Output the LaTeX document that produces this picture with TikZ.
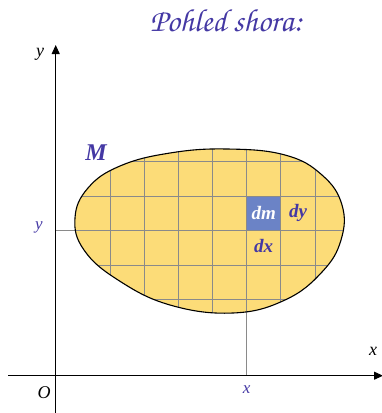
\documentclass[tikz,border=0pt]{standalone}
\usepackage{fontspec}
\setmainfont{Liberation Serif}
\usetikzlibrary{arrows.meta}
\definecolor{ink}{HTML}{4438A4}
\definecolor{blobfill}{HTML}{FCDC78}
\definecolor{cellblue}{HTML}{6B83C6}
\definecolor{gridgray}{HTML}{8A8A8A}
\tikzset{
  axis/.style={line width=1pt, -{Triangle[length=9pt,width=8pt]}},
  gridline/.style={gridgray, line width=0.9pt},
  axlabel/.style={font=\fontsize{18}{18}\selectfont\itshape},
  bluelabel/.style={ink, font=\fontsize{17}{17}\selectfont\itshape},
  mlabel/.style={ink, font=\fontsize{19}{19}\selectfont\bfseries\itshape},
  biglabel/.style={ink, font=\fontsize{24}{24}\selectfont\bfseries\itshape},
}
\def\blobpath{plot[smooth cycle, tension=0.7] coordinates {(75,218) (88,188) (120,166) (170,153) (227,149) (285,155) (322,175) (342,205) (341,240) (322,272) (285,300) (233,313) (170,305) (118,280) (84,250)}}
\begin{document}
\begin{tikzpicture}[x=1pt,y=-1pt]
\useasboundingbox (0,0) rectangle (382,413);
% extended lines
\coordinate (xfoot) at (246.7,375.7);
\coordinate (xtop) at (246.7,200);
\coordinate (yfoot) at (55.7,230);
\coordinate (yend) at (200,230);
\draw[gridline] (xfoot) -- (xtop);
\draw[gridline] (yfoot) -- (yend);
% blob
\fill[blobfill] \blobpath;
\begin{scope}
\clip \blobpath;
\fill[cellblue] (246.7,196) rectangle (280.7,230);
\foreach \gx in {110,144,178.3,212.7,246.7,280.7,315}
  \draw[gridline] (\gx,140) -- (\gx,320);
\foreach \gy in {161.7,196,230,265,299.3}
  \draw[gridline] (70,\gy) -- (350,\gy);
\end{scope}
\draw[line width=1.1pt] \blobpath;
% axes
\coordinate (xs) at (8,375.7);
\coordinate (xe) at (383,375.7);
\coordinate (ys) at (55.7,413);
\coordinate (ye) at (55.7,45);
\draw[axis] (xs) -- (xe);
\draw[axis] (ys) -- (ye);
% labels
\node[axlabel] (ly) at (40,54) {y};
\node[axlabel] (lx) at (373,351) {x};
\node[axlabel] (lo) at (44,393) {O};
\node[bluelabel] (lxv) at (246.7,390) {x};
\node[bluelabel] (lyv) at (39,227) {y};
\node[biglabel] (lm) at (96,153) {M};
\node[mlabel, white] (ldm) at (263.7,213) {dm};
\node[mlabel] (ldy) at (298,213) {dy};
\node[mlabel] (ldx) at (263.7,246) {dx};
\node[ink, font=\usefont{T1}{pzc}{m}{it}\fontsize{32}{32}\selectfont] (title) at (226,20) {Pohled shora:};
\end{tikzpicture}
\end{document}
